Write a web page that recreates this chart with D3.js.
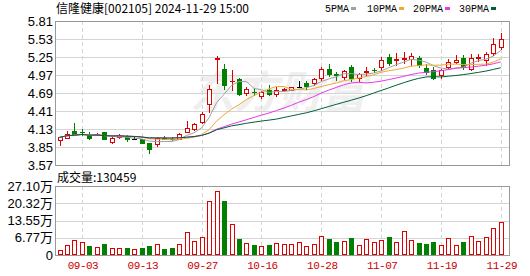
<!DOCTYPE html>
<html>
<head>
<meta charset="utf-8">
<script src="https://cdn.jsdelivr.net/npm/d3@7"></script>
<style>
  body { margin: 0; background: #fff; }
  svg { display: block; }
</style>
</head>
<body>
<svg id="chart"></svg>
<script>
// 信隆健康 002105 daily candles, 2024-08-29 .. 2024-11-29
const dates = ['08-29','08-30','09-02','09-03','09-04','09-05','09-06','09-09','09-10','09-11',
  '09-12','09-13','09-18','09-19','09-20','09-23','09-24','09-25','09-26','09-27',
  '09-30','10-08','10-09','10-10','10-11','10-14','10-15','10-16','10-17','10-18',
  '10-21','10-22','10-23','10-24','10-25','10-28','10-29','10-30','10-31','11-01',
  '11-04','11-05','11-06','11-07','11-08','11-11','11-12','11-13','11-14','11-15',
  '11-18','11-19','11-20','11-21','11-22','11-25','11-26','11-27','11-28','11-29'];

const open = [3.96,3.99,4.10,4.09,4.03,4.04,4.08,3.93,4.00,4.02,
  3.97,3.97,3.91,3.89,3.99,3.98,3.98,4.09,4.13,4.24,
  4.52,5.22,5.06,4.87,4.90,4.69,4.71,4.65,4.73,4.68,
  4.74,4.74,4.79,4.84,4.84,4.92,5.07,4.98,4.94,5.10,
  4.92,5.02,5.05,5.10,5.25,5.21,5.22,5.22,5.23,5.08,
  5.05,4.97,5.09,5.17,5.23,5.07,5.24,5.21,5.31,5.41];
const high = [4.00,4.10,4.23,4.13,4.08,4.07,4.09,4.00,4.06,4.04,
  4.02,3.98,3.92,4.00,4.02,4.00,4.07,4.25,4.23,4.40,
  4.81,5.26,5.14,5.04,4.92,4.78,4.77,4.72,4.81,4.79,
  4.77,4.79,4.87,4.87,4.93,5.10,5.14,5.02,5.05,5.13,
  5.00,5.09,5.08,5.25,5.30,5.31,5.32,5.31,5.27,5.14,
  5.09,5.06,5.22,5.28,5.28,5.29,5.30,5.32,5.54,5.62];
const low = [3.88,3.99,4.05,4.04,3.98,4.03,3.97,3.91,3.99,3.94,
  3.97,3.91,3.76,3.86,3.97,3.96,3.97,4.09,4.12,4.22,
  4.40,4.84,4.76,4.74,4.66,4.66,4.66,4.61,4.66,4.64,
  4.72,4.73,4.79,4.75,4.81,4.89,4.96,4.89,4.91,4.88,
  4.87,4.97,5.01,5.05,5.13,5.13,5.16,5.12,5.10,4.98,
  4.91,4.92,5.06,5.16,5.06,5.05,5.19,5.13,5.28,5.37];
const close = [4.00,4.05,4.05,4.08,3.99,4.05,3.97,3.99,4.03,3.97,
  3.97,3.92,3.82,3.99,3.98,3.97,4.06,4.15,4.20,4.36,
  4.76,5.23,4.81,4.88,4.67,4.75,4.70,4.70,4.68,4.74,
  4.75,4.78,4.79,4.80,4.91,5.06,4.98,4.97,5.03,4.92,
  4.98,5.03,5.04,5.20,5.16,5.22,5.23,5.26,5.13,5.02,
  4.93,5.05,5.18,5.21,5.09,5.24,5.25,5.29,5.45,5.53];
// volume in 万手
const volume = [1.96,3.93,5.89,5.10,3.53,3.14,4.32,2.62,2.62,2.75,
  2.36,2.75,3.53,4.32,2.36,2.75,4.32,9.03,5.50,7.07,
  21.2,25.1,21.2,12.2,6.28,4.71,3.93,3.53,3.93,4.71,
  4.32,4.32,5.10,3.53,4.32,7.33,6.28,5.10,5.50,6.68,
  3.93,6.28,5.10,5.89,7.07,5.10,9.29,5.89,4.71,4.32,
  5.10,3.93,6.55,3.93,5.10,7.46,5.63,7.07,10.6,13.05];

const priceTicks = [5.81, 5.53, 5.25, 4.97, 4.69, 4.41, 4.13, 3.85, 3.57];
const volTicks = [0, 6.77, 13.55, 20.32, 27.10];
const volTickLabels = ['0', '6.77万', '13.55万', '20.32万', '27.10万'];
const dateTicks = ['09-03','09-13','09-27','10-16','10-28','11-07','11-19','11-29'];
const maPeriods = [5, 10, 20, 30];
const maNames = ['5PMA', '10PMA', '20PMA', '30PMA'];

const W = 530, H = 276;
const left = 55, right = 509;
const pTop = 21, pBottom = 165;
const vTop = 186, vBottom = 255;

const RED = '#dd0000', GREEN = '#007f00', GRID = '#d4d4d4', FRAME = '#999';
const maColors = ['#a0a0a0', '#f0a830', '#e838e8', '#00603a'];

const svg = d3.select('#chart').attr('width', W).attr('height', H);

const x = d3.scaleLinear().domain([0, dates.length - 1]).range([59.5, 500.8]);
const yP = d3.scaleLinear().domain([3.57, 5.81]).range([pBottom, pTop]);
const yV = d3.scaleLinear().domain([0, 27.10]).range([vBottom, vTop]);

const px = i => Math.round(x(i));
const gridX = dateTicks.map(d => dates.indexOf(d));

// watermark
svg.append('text')
  .attr('x', 190).attr('y', 108)
  .attr('font-family', 'Noto Sans CJK SC').attr('font-size', 44)
  .attr('font-weight', 'bold').attr('font-style', 'italic')
  .attr('fill', '#efefef')
  .text('东方财富');

// grids
function drawGrid(ticks, yScale, top, bottom) {
  svg.append('g').selectAll('line')
    .data(ticks.slice(1, -1))
    .enter().append('line')
    .attr('x1', left).attr('x2', right)
    .attr('y1', d => Math.round(yScale(d)) + 0.5)
    .attr('y2', d => Math.round(yScale(d)) + 0.5)
    .attr('stroke', GRID);

  svg.append('g').selectAll('line')
    .data(gridX)
    .enter().append('line')
    .attr('x1', d => px(d) + 0.5).attr('x2', d => px(d) + 0.5)
    .attr('y1', top).attr('y2', bottom)
    .attr('stroke', GRID)
    .attr('stroke-dasharray', '4,3');
}
drawGrid(priceTicks, yP, pTop, pBottom);
drawGrid(volTicks, yV, vTop, vBottom);

// y axes
const priceAxis = d3.axisLeft(yP)
  .tickValues(priceTicks)
  .tickFormat(d3.format('.2f'))
  .tickSize(0)
  .tickPadding(2);
svg.append('g')
  .attr('transform', `translate(${left},0)`)
  .call(priceAxis)
  .call(g => g.select('.domain').remove())
  .call(g => g.selectAll('text')
    .attr('font-family', 'Liberation Sans, Arial')
    .attr('font-size', 13).attr('fill', '#000'));

const volAxis = d3.axisLeft(yV)
  .tickValues(volTicks)
  .tickFormat((d, i) => volTickLabels[i])
  .tickSize(0)
  .tickPadding(2);
svg.append('g')
  .attr('transform', `translate(${left},0)`)
  .call(volAxis)
  .call(g => g.select('.domain').remove())
  .call(g => g.selectAll('text')
    .attr('font-family', 'Liberation Sans, Noto Sans CJK SC')
    .attr('font-size', 13).attr('fill', '#000'));

// x axis labels
const xAxis = d3.axisBottom(x)
  .tickValues(gridX)
  .tickFormat(i => dates[i])
  .tickSize(0)
  .tickPadding(6);
svg.append('g')
  .attr('transform', `translate(0.5,${vBottom})`)
  .call(xAxis)
  .call(g => g.select('.domain').remove())
  .call(g => g.selectAll('text')
    .attr('font-family', 'Liberation Mono, monospace')
    .attr('font-size', 11).attr('letter-spacing', -0.5)
    .attr('fill', '#cc0000'));

// candles
const candleColor = i => close[i] > open[i] ? RED : (close[i] < open[i] ? GREEN : '#000');
const idx = d3.range(dates.length);

const candles = svg.append('g').selectAll('g')
  .data(idx)
  .enter().append('g');

candles.append('line')
  .attr('x1', i => px(i) + 0.5).attr('x2', i => px(i) + 0.5)
  .attr('y1', i => Math.round(yP(high[i])))
  .attr('y2', i => Math.round(yP(low[i])) + 1)
  .attr('stroke', candleColor);

candles.append('rect')
  .attr('x', i => px(i) - 1.5)
  .attr('width', 4)
  .attr('y', i => Math.round(yP(Math.max(open[i], close[i]))) + 0.5)
  .attr('height', i => Math.max(0.01, Math.round(yP(Math.min(open[i], close[i]))) - Math.round(yP(Math.max(open[i], close[i])))))
  .attr('fill', i => close[i] > open[i] ? '#fff' : candleColor(i))
  .attr('stroke', candleColor);

// moving averages
const line = d3.line().x((d, i) => x(i)).y(d => yP(d));
maPeriods.forEach((n, k) => {
  const ma = close.map((c, i) => d3.mean(close.slice(Math.max(0, i - n + 1), i + 1)));
  svg.append('path')
    .datum(ma)
    .attr('d', line)
    .attr('fill', 'none')
    .attr('stroke', maColors[k])
    .attr('stroke-width', 1);
});

// volume bars: red when close >= previous close
const volUp = i => i === 0 ? close[i] >= open[i] : close[i] >= close[i - 1];
svg.append('g').selectAll('rect')
  .data(idx)
  .enter().append('rect')
  .attr('x', i => px(i) - 1.5)
  .attr('width', 4)
  .attr('y', i => Math.round(yV(volume[i])) + 0.5)
  .attr('height', i => vBottom - Math.round(yV(volume[i])) - 1)
  .attr('fill', i => volUp(i) ? '#fff' : GREEN)
  .attr('stroke', i => volUp(i) ? RED : GREEN);

// frames
[[pTop, pBottom], [vTop, vBottom]].forEach(([t, b]) => {
  svg.append('rect')
    .attr('x', left + 0.5).attr('y', t + 0.5)
    .attr('width', right - left).attr('height', b - t)
    .attr('fill', 'none').attr('stroke', FRAME);
});

// title + legend
svg.append('text')
  .attr('x', 56).attr('y', 13)
  .attr('font-family', 'Noto Sans CJK SC').attr('font-size', 12)
  .attr('fill', '#000')
  .text('信隆健康[002105] 2024-11-29 15:00');

const legendX = [325, 367, 413, 459];
maNames.forEach((name, k) => {
  const t = svg.append('text')
    .attr('x', legendX[k]).attr('y', 12)
    .attr('font-family', 'Liberation Mono, monospace').attr('font-size', 10)
    .attr('fill', '#000')
    .text(name);
  const w = t.node().getComputedTextLength();
  svg.append('rect')
    .attr('x', legendX[k] + w + 2).attr('y', 7)
    .attr('width', 5).attr('height', 3)
    .attr('fill', maColors[k]);
});

svg.append('text')
  .attr('x', 57).attr('y', 182)
  .attr('font-family', 'Noto Sans CJK SC').attr('font-size', 12)
  .attr('fill', '#000')
  .text('成交量:130459');
</script>
</body>
</html>
